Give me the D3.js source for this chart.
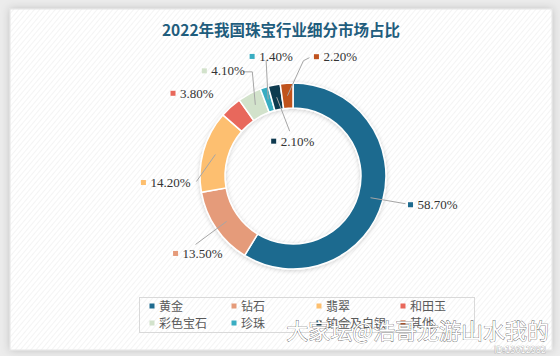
<!DOCTYPE html>
<html><head><meta charset="utf-8">
<script src="https://cdn.jsdelivr.net/npm/d3@7"></script>
<style>html,body{margin:0;padding:0;background:#e9e9e9;}svg{display:block;}</style>
</head><body>
<svg id="c" width="560" height="356"></svg>
<script>
const title = "2022年我国珠宝行业细分市场占比";
const categories = ["黄金","钻石","翡翠","和田玉","彩色宝石","珍珠","铂金及白银","其他"];
const values = [58.7, 13.5, 14.2, 3.8, 4.1, 1.4, 2.1, 2.2];
const labels = ["58.70%","13.50%","14.20%","3.80%","4.10%","1.40%","2.10%","2.20%"];
const colors = ["#1e6b8f","#e59b7a","#fdbf6f","#e8685b","#d2e2cb","#39adc2","#0f3a50","#c0521e"];
// layout: label marker offset from slice centroid, leader knee/end offsets
const labelOffset = [[40,7],[-51,32],[-72,28],[-66,-23],[-51,-34],[-16,-43],[-3,44],[29,-39]];
const leaderEnd = [[35,6],[-31,23],[-19,27],null,[-12,-33],[-2,-39],[13,34],[22,-38]];
const leaderKnee = [null,null,null,null,[-3,-33],null,null,[16,-35]];

const svg = d3.select("#c");
const W = 560, H = 356;
const defs = svg.append("defs");
const pat = defs.append("pattern").attr("id","diag").attr("patternUnits","userSpaceOnUse")
  .attr("width",4).attr("height",4).attr("patternTransform","rotate(40)");
pat.append("rect").attr("width",4).attr("height",4).attr("fill","#ffffff");
pat.append("line").attr("x1",0).attr("y1",0).attr("x2",0).attr("y2",4).attr("stroke","#f1f1f1").attr("stroke-width",1.5);
const sh = defs.append("filter").attr("id","sh").attr("x","-10%").attr("y","-10%").attr("width","130%").attr("height","130%");
sh.append("feDropShadow").attr("dx",0).attr("dy",1).attr("stdDeviation",2).attr("flood-color","#000").attr("flood-opacity",0.18);
const psh = defs.append("filter").attr("id","psh").attr("x","-5%").attr("y","-5%").attr("width","110%").attr("height","110%");
psh.append("feDropShadow").attr("dx",0).attr("dy",0).attr("stdDeviation",4).attr("flood-color","#000").attr("flood-opacity",0.18);

svg.append("rect").attr("width",W).attr("height",H).attr("fill","#ececec");
svg.append("rect").attr("x",10).attr("y",9).attr("width",542).attr("height",341)
  .attr("fill","url(#diag)").attr("stroke","#e4e4e4").attr("filter","url(#psh)");

svg.append("text").attr("x",281).attr("y",36).attr("text-anchor","middle")
  .attr("font-family","'Noto Sans CJK SC', sans-serif").attr("font-weight","bold")
  .attr("font-size",15.5).attr("fill","#1f5d7d").text(title);

const cx = 293, cy = 176, rOut = 93, rIn = 68;
const pie = d3.pie().sort(null).value(d => d)(values);
const arc = d3.arc().innerRadius(rIn).outerRadius(rOut);
const mid = d3.arc().innerRadius((rIn+rOut)/2).outerRadius((rIn+rOut)/2);
const g = svg.append("g").attr("transform",`translate(${cx},${cy})`);
g.append("g").attr("filter","url(#sh)").selectAll("path").data(pie).join("path")
  .attr("d",arc).attr("fill",(d,i)=>colors[i]).attr("stroke","#fff").attr("stroke-width",1.5);

pie.forEach((d,i) => {
  const [mx,my] = mid.centroid(d);
  if (leaderEnd[i]) {
    const pts = [[mx,my]];
    if (leaderKnee[i]) pts.push([mx+leaderKnee[i][0], my+leaderKnee[i][1]]);
    pts.push([mx+leaderEnd[i][0], my+leaderEnd[i][1]]);
    g.append("path").attr("d", d3.line()(pts)).attr("fill","none").attr("stroke","#a6a6a6").attr("stroke-width",1);
  }
  const lx = mx + labelOffset[i][0], ly = my + labelOffset[i][1];
  g.append("rect").attr("x",lx-2.5).attr("y",ly-2.5).attr("width",5).attr("height",5).attr("fill",colors[i]);
  g.append("text").attr("x",lx+7).attr("y",ly+4.5)
    .attr("font-family","'Liberation Serif', serif").attr("font-size",13).attr("fill","#333")
    .text(labels[i]);
});

// legend
svg.append("rect").attr("x",139.5).attr("y",297.5).attr("width",335).attr("height",35)
  .attr("fill","none").attr("stroke","#d9d9d9");
const colX = [152,234,319,403], rowY = [306,323];
categories.forEach((c,i) => {
  const x = colX[i%4], y = rowY[Math.floor(i/4)];
  svg.append("rect").attr("x",x-2.5).attr("y",y-2.5).attr("width",5).attr("height",5).attr("fill",colors[i]);
  svg.append("text").attr("x",x+7).attr("y",y+4.5).attr("font-family","'Noto Sans CJK SC', sans-serif")
    .attr("font-size",12).attr("fill","#595959").text(c);
});

// watermark
svg.append("text").attr("x",549).attr("y",339).attr("text-anchor","end")
  .attr("font-family","'Noto Sans CJK SC', sans-serif").attr("font-size",22)
  .attr("fill","#fff").attr("stroke","#555").attr("stroke-width",0.7).attr("paint-order","stroke")
  .text("大家坛@浩哥龙游山水我的");
svg.append("text").attr("x",546).attr("y",353).attr("text-anchor","end")
  .attr("font-family","'DejaVu Sans', sans-serif").attr("font-size",8)
  .attr("fill","#fff").attr("stroke","#999").attr("stroke-width",0.6).attr("paint-order","stroke")
  .text("ID:13612382");
</script>
</body></html>
